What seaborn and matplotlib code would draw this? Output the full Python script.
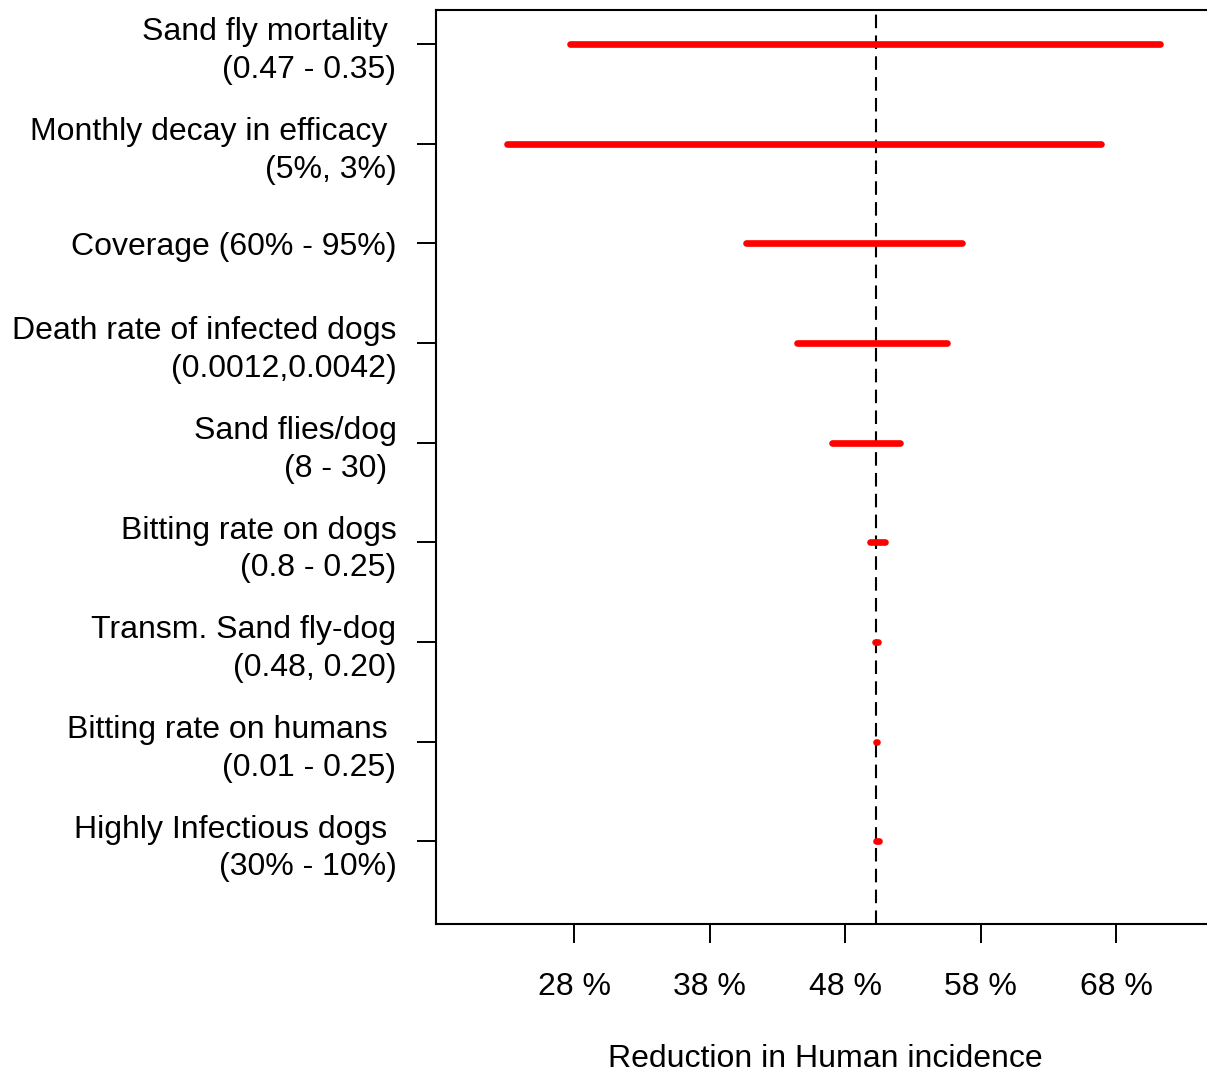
"""
Sensitivity (tornado) chart: reduction in human incidence per parameter.
"""
import numpy as np
import pandas as pd
import matplotlib
matplotlib.use("Agg")
import matplotlib.pyplot as plt
import seaborn as sns

# parameter labels, top to bottom
labels = [
    "Sand fly mortality \n(0.47 - 0.35)",
    "Monthly decay in efficacy \n(5%, 3%)",
    "Coverage (60% - 95%)",
    "Death rate of infected dogs\n(0.0012,0.0042)",
    "Sand flies/dog\n(8 - 30) ",
    "Bitting rate on dogs\n(0.8 - 0.25)",
    "Transm. Sand fly-dog\n(0.48, 0.20)",
    "Bitting rate on humans \n(0.01 - 0.25)",
    "Highly Infectious dogs \n(30% - 10%)",
]

# reduction in human incidence (%) at the two ends of each range
low = [27.7, 23.05, 40.65, 44.45, 47.05, 49.85, 50.2, 50.28, 50.3]
high = [71.25, 66.9, 56.6, 55.5, 52.05, 50.9, 50.4, 50.32, 50.5]

# baseline reduction
base = 50.3

xticks = [28, 38, 48, 58, 68]
xtick_labels = ["28 %", "38 %", "48 %", "58 %", "68 %"]

sns.set_theme(style="ticks")
plt.rcParams["font.family"] = ["Liberation Sans", "DejaVu Sans"]

n = len(labels)
pos = np.arange(n, 0, -1)  # 9 at the top

df = pd.DataFrame({
    "param": labels * 2,
    "pos": np.concatenate([pos, pos]),
    "value": low + high,
})

W, H = 1207, 1074
fig = plt.figure(figsize=(W / 100, H / 100), dpi=100)
ax = fig.add_axes([436 / W, (H - 924) / H, (1215 - 436) / W, 914 / H])

sns.lineplot(
    data=df, x="value", y="pos", units="param", estimator=None, sort=False,
    color="#ff0000", linewidth=4.8, solid_capstyle="round", ax=ax, legend=False,
)

ax.axvline(base, color="black", linewidth=1.5, dashes=(6.5, 3.5), zorder=1)

ax.set_xlim(17.8, 17.8 + (1215 - 436) / 13.55)
ax.set_ylim(0.17, 9.34)

ax.set_xticks(xticks)
ax.set_xticklabels(xtick_labels)
ax.set_yticks(pos)
ax.set_yticklabels(labels)
for t in ax.get_yticklabels():
    t.set_linespacing(1.33)

ax.tick_params(axis="both", direction="out", length=13.5, width=1.4,
               color="black", labelsize=23, labelcolor="black")
ax.tick_params(axis="y", pad=15)
ax.tick_params(axis="x", pad=21)

for sp in ax.spines.values():
    sp.set_linewidth(1.5)
    sp.set_color("black")

ax.set_xlabel("Reduction in Human incidence", fontsize=23, color="black",
              labelpad=30)
ax.set_ylabel("")

fig.savefig("out.png", dpi=100, facecolor="white")
